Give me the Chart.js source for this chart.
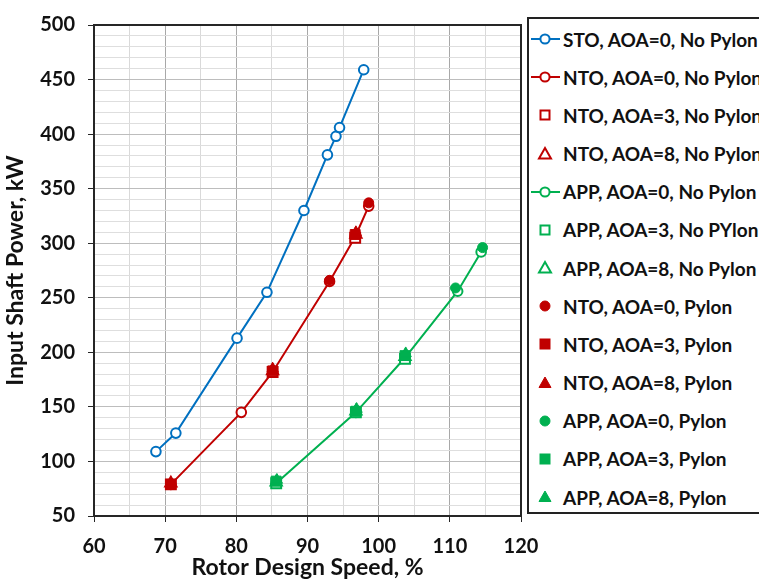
<!DOCTYPE html>
<html>
<head>
<meta charset="utf-8">
<script src="https://cdn.jsdelivr.net/npm/chart.js@4/dist/chart.umd.min.js"></script>
<style>
  html, body { margin: 0; padding: 0; background: #fff; overflow: hidden; }
  #wrap { position: relative; width: 759px; height: 579px; }
  #legend {
    position: absolute; left: 527px; top: 17px; width: 260px; height: 497px;
    border: 2px solid #222; box-sizing: border-box; background: #fff;
    font-family: Lato, sans-serif; font-weight: bold; font-size: 19px; color: #111;
  }
  .item { position: absolute; left: 0; height: 24px; display: flex; align-items: center; white-space: nowrap; }
  .item svg { margin-right: 2px; flex: none; }
</style>
</head>
<body>
<div id="wrap">
  <canvas id="chart" width="759" height="579"></canvas>
  <div id="legend"></div>
</div>
<script>
const BLUE = '#0070C0';
const RED = '#C00000';
const GREEN = '#00B050';

// rotor design speed (%) and input shaft power (kW) per test condition
const stoSpeed = [68.7, 71.5, 80.1, 84.3, 89.5, 92.8, 94.0, 94.5, 97.9];
const stoPower = [109, 126, 213, 255, 330, 381, 398, 406, 459];

const nto0Speed = [70.8, 80.7, 85.1, 93.1, 96.7, 98.6];
const nto0Power = [79, 145, 182, 265, 306, 334];
const nto3Speed = [70.8, 85.1, 96.7];
const nto3Power = [79, 182, 305];
const nto8Speed = [70.8, 85.1, 96.8];
const nto8Power = [80, 183, 308];

const app0Speed = [85.6, 96.8, 103.7, 111.1, 114.4];
const app0Power = [80, 145, 195, 256, 292];
const app3Speed = [85.6, 96.8, 103.7];
const app3Power = [80, 145, 194];
const app8Speed = [85.6, 96.8, 103.7];
const app8Power = [81, 146, 196];

const ntoP0Speed = [93.1, 98.6];
const ntoP0Power = [266, 337];
const ntoP3Speed = [70.8, 85.1, 96.7];
const ntoP3Power = [79, 183, 308];
const ntoP8Speed = [70.8, 85.1, 96.8];
const ntoP8Power = [80, 185, 310];

const appP0Speed = [110.8, 114.6];
const appP0Power = [259, 296];
const appP3Speed = [85.6, 96.8, 103.7];
const appP3Power = [82, 146, 197];
const appP8Speed = [85.7, 96.9, 103.8];
const appP8Power = [83, 148, 199];

const yTicks = [50, 100, 150, 200, 250, 300, 350, 400, 450, 500];
const xTicks = [60, 70, 80, 90, 100, 110, 120];

const pts = (xs, ys) => xs.map((x, i) => ({ x, y: ys[i] }));

function series(label, xs, ys, color, style, filled, line) {
  const r = style === 'rect' ? 7 : style === 'triangle' ? 6.5 : (filled ? 5 : 4.8);
  return {
    label,
    data: pts(xs, ys),
    showLine: line,
    borderColor: color,
    borderWidth: 2,
    backgroundColor: color,
    pointStyle: style,
    pointRadius: r,
    pointHoverRadius: r,
    pointBorderWidth: filled ? 1 : 2,
    pointBorderColor: color,
    pointBackgroundColor: filled ? color : '#fff',
    _legendLine: line,
    _filled: filled
  };
}

const datasets = [
  series('STO, AOA=0, No Pylon', stoSpeed, stoPower, BLUE, 'circle', false, true),
  series('NTO, AOA=0, No Pylon', nto0Speed, nto0Power, RED, 'circle', false, true),
  series('NTO, AOA=3, No Pylon', nto3Speed, nto3Power, RED, 'rect', false, false),
  series('NTO, AOA=8, No Pylon', nto8Speed, nto8Power, RED, 'triangle', false, false),
  series('APP, AOA=0, No Pylon', app0Speed, app0Power, GREEN, 'circle', false, true),
  series('APP, AOA=3, No PYlon', app3Speed, app3Power, GREEN, 'rect', false, false),
  series('APP, AOA=8, No Pylon', app8Speed, app8Power, GREEN, 'triangle', false, false),
  series('NTO, AOA=0, Pylon', ntoP0Speed, ntoP0Power, RED, 'circle', true, false),
  series('NTO, AOA=3, Pylon', ntoP3Speed, ntoP3Power, RED, 'rect', true, false),
  series('NTO, AOA=8, Pylon', ntoP8Speed, ntoP8Power, RED, 'triangle', true, false),
  series('APP, AOA=0, Pylon', appP0Speed, appP0Power, GREEN, 'circle', true, false),
  series('APP, AOA=3, Pylon', appP3Speed, appP3Power, GREEN, 'rect', true, false),
  series('APP, AOA=8, Pylon', appP8Speed, appP8Power, GREEN, 'triangle', true, false)
];
// later series sit on top
datasets.forEach((d, i) => { d.order = datasets.length - i; });

const frame = {
  id: 'frame',
  afterDatasetsDraw(chart) {
    const { ctx, chartArea: a } = chart;
    ctx.save();
    ctx.strokeStyle = '#262626';
    ctx.lineWidth = 2;
    ctx.strokeRect(a.left, a.top, a.right - a.left, a.bottom - a.top);
    ctx.restore();
  }
};

const tickFont = { family: 'Lato', weight: 'bold', size: 20 };
const titleFont = { family: 'Lato', weight: 'bold', size: 23 };

const chart = new Chart(document.getElementById('chart'), {
  type: 'scatter',
  data: { datasets },
  options: {
    responsive: false,
    animation: false,
    events: [],
    layout: { padding: { top: 18, right: 238, left: 0, bottom: 0 } },
    plugins: { legend: { display: false }, tooltip: { enabled: false } },
    scales: {
      x: {
        min: 60, max: 120,
        afterFit: s => { s.height = 63; },
        afterBuildTicks: s => { s.ticks = []; for (let v = 60; v <= 120; v += 5) s.ticks.push({ value: v }); },
        ticks: {
          font: tickFont, color: '#111', padding: 13, maxRotation: 0, autoSkip: false,
          callback: v => xTicks.includes(v) ? v : ''
        },
        grid: {
          color: c => c.tick && c.tick.value % 10 === 0 ? '#a8a8a8' : '#d9d9d9',
          tickColor: c => c.tick && c.tick.value % 10 === 0 ? '#262626' : 'rgba(0,0,0,0)',
          tickLength: 6, lineWidth: 1
        },
        border: { color: '#262626', width: 2 },
        title: { display: true, text: 'Rotor Design Speed, %', font: titleFont, color: '#111', padding: { top: 0, bottom: -2 } }
      },
      y: {
        min: 50, max: 500,
        afterFit: s => { s.width = 94; },
        afterBuildTicks: s => { s.ticks = []; for (let v = 50; v <= 500; v += 10) s.ticks.push({ value: v }); },
        ticks: {
          font: tickFont, color: '#111', padding: 13, autoSkip: false,
          callback: v => yTicks.includes(v) ? v : ''
        },
        grid: {
          color: c => c.tick && c.tick.value % 50 === 0 ? '#bdbdbd' : '#dedede',
          tickColor: c => c.tick && c.tick.value % 50 === 0 ? '#262626' : 'rgba(0,0,0,0)',
          tickLength: 6, lineWidth: 1
        },
        border: { color: '#262626', width: 2 },
        title: { display: true, text: 'Input Shaft Power, kW', font: titleFont, color: '#111', padding: { top: 2, bottom: 0 } }
      }
    }
  },
  plugins: [frame]
});

// legend box on the right, built from the datasets
const legend = document.getElementById('legend');
datasets.forEach((d, i) => {
  const item = document.createElement('div');
  item.className = 'item';
  item.style.top = (8 + i * 38.17) + 'px';
  const c = d.borderColor;
  const fill = d._filled ? c : '#fff';
  let mark;
  if (d.pointStyle === 'circle') {
    mark = `<circle cx="16" cy="12" r="${d._filled ? 5 : 4.6}" fill="${fill}" stroke="${c}" stroke-width="${d._filled ? 1 : 2}"/>`;
  } else if (d.pointStyle === 'rect') {
    const h = d._filled ? 5 : 4.5;
    mark = `<rect x="${16 - h}" y="${12 - h}" width="${2 * h}" height="${2 * h}" fill="${fill}" stroke="${c}" stroke-width="${d._filled ? 1 : 2}"/>`;
  } else {
    mark = `<polygon points="16,6 22,16.5 10,16.5" fill="${fill}" stroke="${c}" stroke-width="${d._filled ? 1 : 2}"/>`;
  }
  const line = d._legendLine ? `<line x1="2" y1="12" x2="31" y2="12" stroke="${c}" stroke-width="2"/>` : '';
  item.innerHTML = `<svg width="32" height="24">${line}${mark}</svg><span>${d.label}</span>`;
  legend.appendChild(item);
});
</script>
</body>
</html>
